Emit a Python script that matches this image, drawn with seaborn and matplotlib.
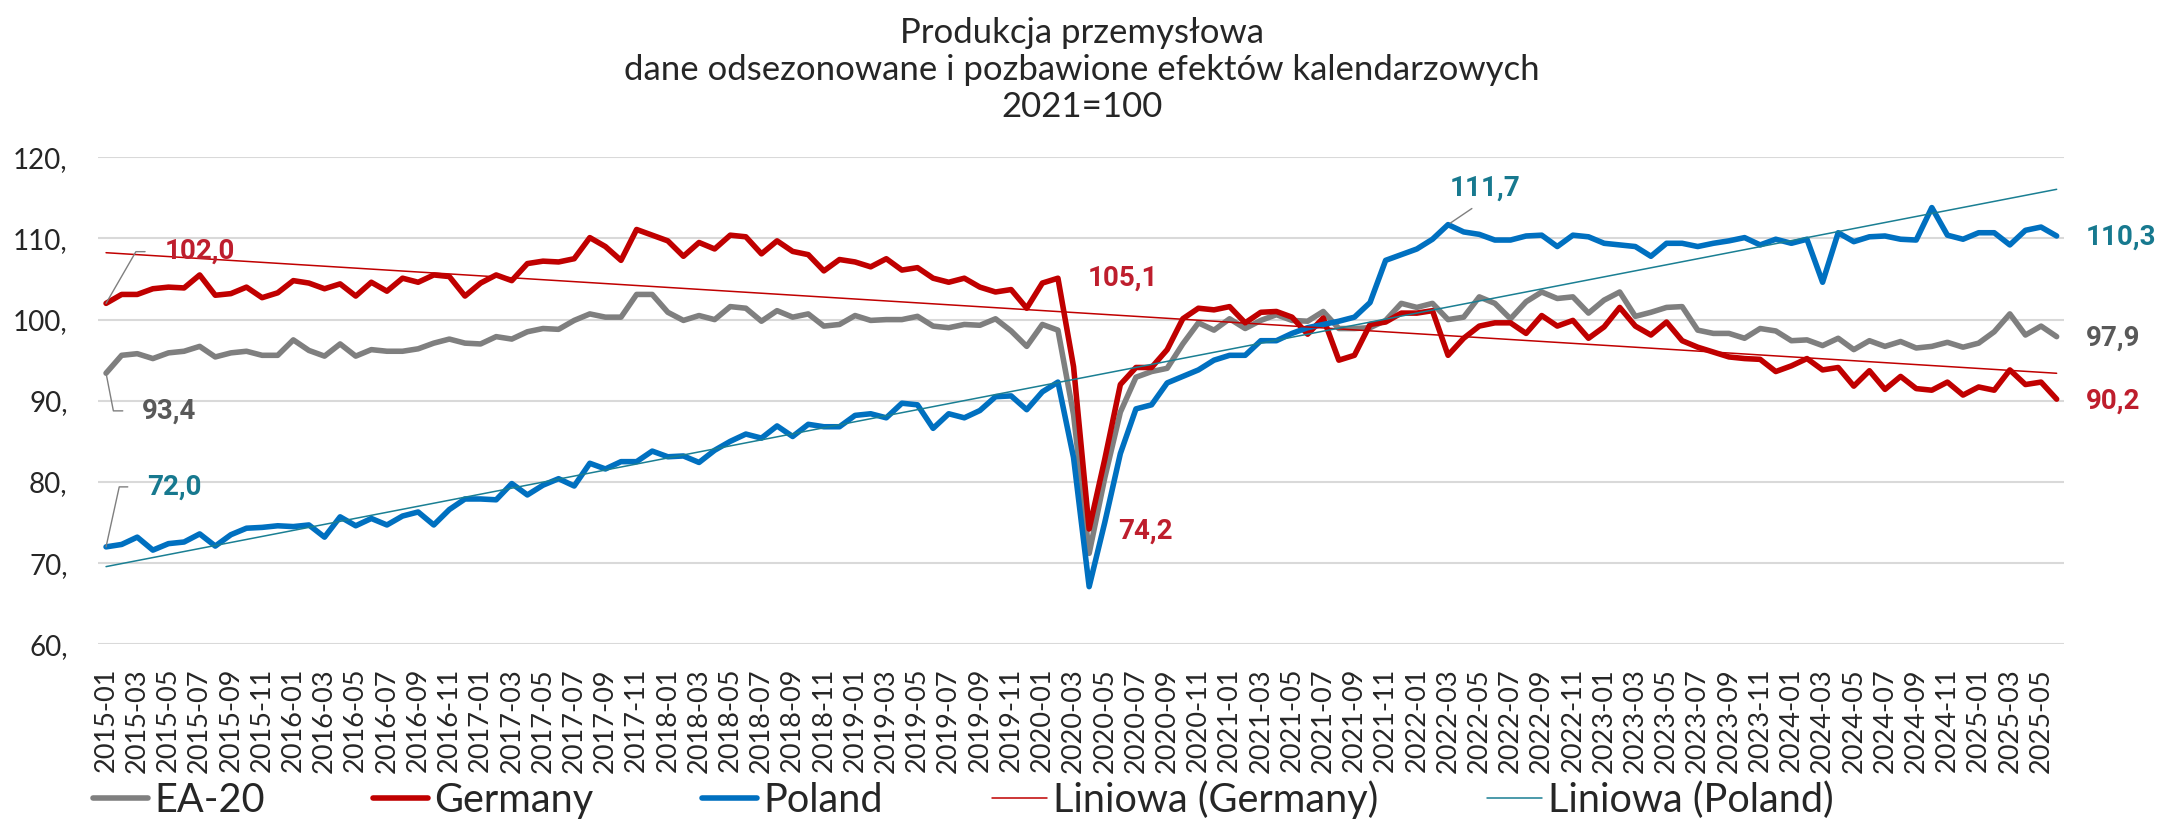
import pandas as pd
import matplotlib.pyplot as plt
import seaborn as sns
from matplotlib.lines import Line2D

# Monthly index 2021=100, 2015-01 .. 2025-06
months = pd.date_range('2015-01-01', periods=126, freq='MS').strftime('%Y-%m').tolist()

ea20 = [
    93.4, 95.6, 95.8, 95.2, 95.9, 96.1, 96.7, 95.4, 95.9, 96.1, 95.6, 95.6,
    97.5, 96.2, 95.5, 97.0, 95.5, 96.3, 96.1, 96.1, 96.4, 97.1, 97.6, 97.1,
    97.0, 97.9, 97.6, 98.5, 98.9, 98.8, 99.9, 100.7, 100.3, 100.3, 103.1, 103.1,
    100.9, 99.9, 100.5, 100.0, 101.6, 101.4, 99.8, 101.1, 100.3, 100.7, 99.2, 99.4,
    100.5, 99.9, 100.0, 100.0, 100.4, 99.2, 99.0, 99.4, 99.3, 100.1, 98.6, 96.7,
    99.4, 98.7, 88.3, 71.2, 80.5, 88.6, 92.9, 93.6, 94.0, 97.0, 99.6, 98.7,
    100.1, 98.9, 99.9, 100.6, 99.9, 99.8, 101.0, 98.9, 98.9, 99.0, 99.9, 102.0,
    101.5, 102.0, 100.0, 100.3, 102.8, 102.0, 100.1, 102.2, 103.4, 102.6, 102.8, 100.8,
    102.4, 103.4, 100.4, 100.9, 101.5, 101.6, 98.7, 98.3, 98.3, 97.7, 98.9, 98.6,
    97.4, 97.5, 96.8, 97.7, 96.3, 97.4, 96.7, 97.3, 96.5, 96.7, 97.2, 96.6,
    97.1, 98.5, 100.7, 98.1, 99.2, 97.9,
]

germany = [
    102.0, 103.1, 103.1, 103.8, 104.0, 103.9, 105.5, 103.0, 103.2, 104.0, 102.7, 103.3,
    104.8, 104.5, 103.8, 104.4, 102.9, 104.6, 103.5, 105.1, 104.6, 105.5, 105.3, 102.9,
    104.5, 105.5, 104.8, 106.9, 107.2, 107.1, 107.5, 110.1, 109.0, 107.3, 111.1, 110.4,
    109.7, 107.8, 109.5, 108.7, 110.4, 110.2, 108.1, 109.7, 108.4, 108.0, 106.0, 107.4,
    107.1, 106.5, 107.5, 106.1, 106.4, 105.1, 104.6, 105.1, 104.0, 103.4, 103.7, 101.4,
    104.5, 105.1, 94.2, 74.2, 82.8, 92.0, 94.1, 94.1, 96.3, 100.1, 101.4, 101.2,
    101.6, 99.6, 100.9, 101.0, 100.3, 98.2, 100.2, 95.0, 95.6, 99.4, 99.7, 100.8,
    100.8, 101.1, 95.6, 97.7, 99.2, 99.6, 99.6, 98.3, 100.5, 99.2, 99.9, 97.7,
    99.1, 101.5, 99.2, 98.1, 99.7, 97.4, 96.6, 96.0, 95.4, 95.2, 95.1, 93.6,
    94.3, 95.2, 93.8, 94.1, 91.8, 93.7, 91.4, 93.0, 91.5, 91.3, 92.3, 90.7,
    91.7, 91.3, 93.8, 92.0, 92.3, 90.2,
]

poland = [
    72.0, 72.3, 73.2, 71.6, 72.4, 72.6, 73.6, 72.1, 73.5, 74.3, 74.4, 74.6,
    74.5, 74.7, 73.2, 75.7, 74.6, 75.5, 74.7, 75.8, 76.3, 74.7, 76.6, 77.9,
    77.9, 77.8, 79.8, 78.4, 79.6, 80.4, 79.5, 82.3, 81.6, 82.5, 82.5, 83.8,
    83.1, 83.2, 82.4, 83.9, 85.0, 85.9, 85.4, 86.9, 85.6, 87.1, 86.8, 86.8,
    88.2, 88.4, 87.9, 89.7, 89.5, 86.6, 88.4, 87.9, 88.8, 90.5, 90.6, 88.9,
    91.1, 92.3, 83.0, 67.1, 75.0, 83.5, 89.0, 89.5, 92.2, 93.0, 93.8, 95.0,
    95.6, 95.6, 97.4, 97.4, 98.3, 99.0, 99.4, 99.8, 100.3, 102.1, 107.3, 108.0,
    108.7, 109.9, 111.7, 110.8, 110.5, 109.8, 109.8, 110.3, 110.4, 109.0, 110.4, 110.2,
    109.4, 109.2, 109.0, 107.8, 109.4, 109.4, 109.0, 109.4, 109.7, 110.1, 109.2, 109.9,
    109.4, 109.9, 104.6, 110.7, 109.6, 110.2, 110.3, 109.9, 109.8, 113.8, 110.4, 109.9,
    110.7, 110.7, 109.2, 111.0, 111.4, 110.3,
]

GRAY = '#7F7F7F'
RED = '#C00000'
BLUE = '#0070C0'
TEAL = '#1A7F93'
LABEL_RED = '#BE1E2D'
LABEL_TEAL = '#17798F'
LABEL_GRAY = '#595959'
LEADER = '#7F7F7F'


def fmt(v):
    return f'{v:.1f}'.replace('.', ',')


def add_label(ax, i, values, color, dx_px, dy_px, leader=None):
    # offsets given in pixels (dpi 100) -> points
    kw = dict(xy=(i, values[i]), xytext=(dx_px * 0.72, dy_px * 0.72),
              textcoords='offset points', ha='left', va='center',
              fontsize=20, fontweight='bold', color=color,
              family=['Roboto', 'DejaVu Sans'])
    if leader is not None:
        kw['arrowprops'] = leader
    ax.annotate(fmt(values[i]), **kw)


def main():
    df = pd.DataFrame({'idx': range(len(months)), 'EA-20': ea20,
                       'Germany': germany, 'Poland': poland})
    df_long = df.melt(id_vars='idx', var_name='series', value_name='value')

    sns.set_style('white')
    plt.rcParams['font.family'] = ['Lato', 'DejaVu Sans']

    fig = plt.figure(figsize=(21.64, 8.22), dpi=100)
    ax = fig.add_axes([0.0454, 0.2162, 0.9086, 0.5925])

    sns.lineplot(data=df_long, x='idx', y='value', hue='series',
                 palette={'EA-20': GRAY, 'Germany': RED, 'Poland': BLUE},
                 linewidth=4, legend=False, ax=ax,
                 solid_joinstyle='round', solid_capstyle='round')

    # linear trends
    sns.regplot(data=df, x='idx', y='Germany', scatter=False, ci=None, truncate=True,
                color=RED, line_kws={'linewidth': 1.1}, ax=ax)
    sns.regplot(data=df, x='idx', y='Poland', scatter=False, ci=None, truncate=True,
                color=TEAL, line_kws={'linewidth': 1.1}, ax=ax)

    ax.set_xlim(-0.5, len(months) - 0.5)
    ax.set_ylim(60, 120)
    ax.set_yticks(range(60, 121, 10))
    ax.set_yticklabels([f'{v},' for v in range(60, 121, 10)])
    ax.set_xticks(df['idx'][::2])
    ax.set_xticklabels(months[::2], rotation=90)
    ax.tick_params(axis='x', length=0, pad=17, labelsize=19.5)
    ax.tick_params(axis='y', length=0, pad=22, labelsize=20)
    ax.set_xlabel('')
    ax.set_ylabel('')
    ax.yaxis.grid(True, color='#D9D9D9', linewidth=1.5)
    ax.xaxis.grid(False)
    ax.set_axisbelow(True)
    for s in ax.spines.values():
        s.set_visible(False)

    # data labels
    last = len(months) - 1
    add_label(ax, 61, germany, LABEL_RED, 30, 0)
    add_label(ax, 63, germany, LABEL_RED, 29, -2.5)
    add_label(ax, last, poland, LABEL_TEAL, 29, -1)
    add_label(ax, last, ea20, LABEL_GRAY, 29, -1.5)
    add_label(ax, last, germany, LABEL_RED, 29, -2.5)

    def elbow(angle, gap_px):
        return dict(arrowstyle='-', color=LEADER, lw=1.0, relpos=(0, 0.5),
                    shrinkA=gap_px * 0.72, shrinkB=0,
                    connectionstyle=f'angle,angleA=0,angleB={angle},rad=0')

    add_label(ax, 0, germany, LABEL_RED, 59, 51.7, elbow(60, 16.7))
    add_label(ax, 0, ea20, LABEL_GRAY, 36, -37.7, elbow(-79, 16))
    add_label(ax, 0, poland, LABEL_TEAL, 41, 60, elbow(77.6, 16))
    add_label(ax, 86, poland, LABEL_TEAL, 1.4, 36,
              dict(arrowstyle='-', color=LEADER, lw=1.0, relpos=(0.45, 0),
                   shrinkA=4, shrinkB=2))

    fig.text(0.5, 1 - 70 / 822,
             'Produkcja przemysłowa\n'
             'dane odsezonowane i pozbawione efektów kalendarzowych\n'
             '2021=100',
             ha='center', va='center', fontsize=25, linespacing=1.2)

    handles = [
        Line2D([], [], color=GRAY, lw=4),
        Line2D([], [], color=RED, lw=4),
        Line2D([], [], color=BLUE, lw=4),
        Line2D([], [], color=RED, lw=1.1),
        Line2D([], [], color=TEAL, lw=1.1),
    ]
    labels = ['EA-20', 'Germany', 'Poland', 'Liniowa (Germany)', 'Liniowa (Poland)']
    fig.legend(handles, labels, loc='center left', bbox_to_anchor=(93 / 2164, 22 / 822),
               ncol=5, frameon=False, fontsize=28.5, handlelength=1.39,
               handletextpad=0.15, columnspacing=2.75, borderpad=0, borderaxespad=0)

    fig.savefig('out.png', dpi=100)
    plt.close(fig)


if __name__ == '__main__':
    main()
